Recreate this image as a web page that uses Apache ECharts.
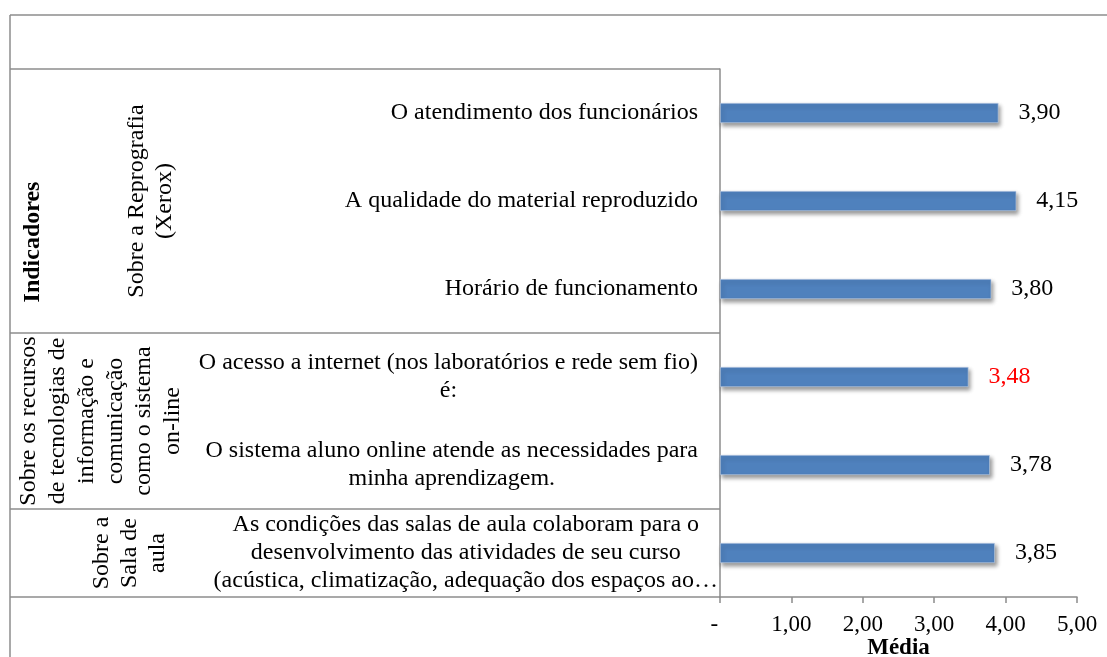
<!DOCTYPE html>
<html>
<head>
<meta charset="utf-8">
<script src="https://cdn.jsdelivr.net/npm/echarts@6/dist/echarts.min.js"></script>
<style>
  html, body { margin: 0; padding: 0; background: #fff; }
  #chart { width: 1107px; height: 657px; }
</style>
</head>
<body>
<div id="chart"></div>
<script>
// chart data
const categories = [
  'O atendimento dos funcionários',
  'A qualidade do material reproduzido',
  'Horário de funcionamento',
  'O acesso a internet (nos laboratórios e rede sem fio)\né:',
  'O sistema aluno online atende as necessidades para\nminha aprendizagem.',
  'As condições das salas de aula colaboram para o\ndesenvolvimento das atividades de seu curso\n(acústica, climatização, adequação dos espaços ao…'
]
const values = [3.90, 4.15, 3.80, 3.48, 3.78, 3.85]
const highlightIndex = 3

const groupNames = [
  'Sobre a Reprografia\n(Xerox)',
  'Sobre os recursos\nde tecnologias de\ninformação e\ncomunicação\ncomo o sistema\non-line',
  'Sobre a\nSala de\naula'
]
const groupSizes = [3, 2, 1]

const xTickLabels = ['-  ', '1,00', '2,00', '3,00', '4,00', '5,00']
const axisTitle = 'Média'
const headerTitle = 'Indicadores'

// layout
const FONT = "'Liberation Serif', 'Times New Roman', serif"
const W = 1107, H = 657
const gridLeft = 720, gridRight = 30, gridTop = 69, gridBottom = 60
const lineColor = '#8c8c8c'
const groupX = [151, 101, 130]
const groupLineHeight = [28, 28.8, 28]

const chart = echarts.init(document.getElementById('chart'), null, { renderer: 'canvas' })

const fmt = (v) => v.toFixed(2).replace('.', ',')

const band = (H - gridTop - gridBottom) / categories.length
const plotBottom = H - gridBottom

const frameLine = (x1, y1, x2, y2) => ({
  type: 'line',
  silent: true,
  shape: { x1, y1, x2, y2 },
  style: { stroke: lineColor, lineWidth: 1.5 }
})

const graphics = [
  frameLine(10, 15, W, 15),
  frameLine(10, 15, 10, H),
  frameLine(10, gridTop, gridLeft, gridTop),
  frameLine(10, plotBottom, gridLeft, plotBottom),
  {
    type: 'text',
    silent: true,
    x: 33,
    y: 242,
    rotation: Math.PI / 2,
    style: {
      text: headerTitle,
      font: 'bold 24px ' + FONT,
      fill: '#000',
      align: 'center',
      verticalAlign: 'middle'
    }
  }
]

let cum = 0
groupNames.forEach((name, g) => {
  const start = cum
  cum += groupSizes[g]
  if (cum < categories.length) {
    const y = gridTop + cum * band
    graphics.push(frameLine(10, y, gridLeft, y))
  }
  graphics.push({
    type: 'text',
    silent: true,
    x: groupX[g],
    y: gridTop + (start + cum) / 2 * band,
    rotation: Math.PI / 2,
    style: {
      text: name,
      font: '24px ' + FONT,
      lineHeight: groupLineHeight[g],
      fill: '#000',
      align: 'center',
      verticalAlign: 'middle'
    }
  })
})

const option = {
  animation: false,
  backgroundColor: '#fff',
  grid: {
    left: gridLeft, right: gridRight, top: gridTop, bottom: gridBottom,
    containLabel: false,
    outerBoundsMode: 'none'
  },
  xAxis: {
    type: 'value',
    min: 0,
    max: 5,
    interval: 1,
    name: axisTitle,
    nameLocation: 'middle',
    nameGap: 40,
    nameMoveOverlap: false,
    nameTextStyle: { fontFamily: FONT, fontSize: 23, fontWeight: 'bold', color: '#000' },
    axisLine: { show: true, lineStyle: { color: lineColor, width: 1.5 } },
    axisTick: { show: true, length: 6, lineStyle: { color: lineColor, width: 1.5 } },
    splitLine: { show: false },
    axisLabel: {
      margin: 16,
      fontFamily: FONT,
      fontSize: 23,
      color: '#000',
      formatter: (v) => xTickLabels[Math.round(v)]
    }
  },
  yAxis: {
    type: 'category',
    inverse: true,
    data: categories,
    axisLine: { show: true, lineStyle: { color: lineColor, width: 1.5 } },
    axisTick: { show: false },
    axisLabel: {
      interval: 0,
      margin: 2,
      align: 'right',
      fontFamily: FONT,
      fontSize: 24,
      lineHeight: 28,
      color: '#000',
      formatter: (v, i) => {
        const s = i === categories.length - 1 ? 'w' : 'n'
        return v.split('\n').map(l => '{' + s + '|' + l + '}').join('\n')
      },
      rich: {
        n: { align: 'center', padding: [0, 20, 0, 0], fontFamily: FONT, fontSize: 24, lineHeight: 28, color: '#000' },
        w: { align: 'center', fontFamily: FONT, fontSize: 24, lineHeight: 28, color: '#000' }
      }
    }
  },
  series: [{
    type: 'bar',
    barWidth: 20,
    data: values.map((v, i) => i === highlightIndex ? { value: v, label: { color: '#ff0000' } } : v),
    itemStyle: {
      color: '#4f81bd',
      borderColor: '#c6d4e8',
      borderWidth: 0.6,
      shadowColor: 'rgba(0, 0, 0, 0.4)',
      shadowBlur: 4,
      shadowOffsetX: 2,
      shadowOffsetY: 3
    },
    label: {
      show: true,
      position: 'right',
      distance: 20,
      fontFamily: FONT,
      fontSize: 24,
      color: '#000',
      formatter: (p) => fmt(p.value)
    }
  }],
  graphic: graphics
}

chart.setOption(option)
</script>
</body>
</html>
